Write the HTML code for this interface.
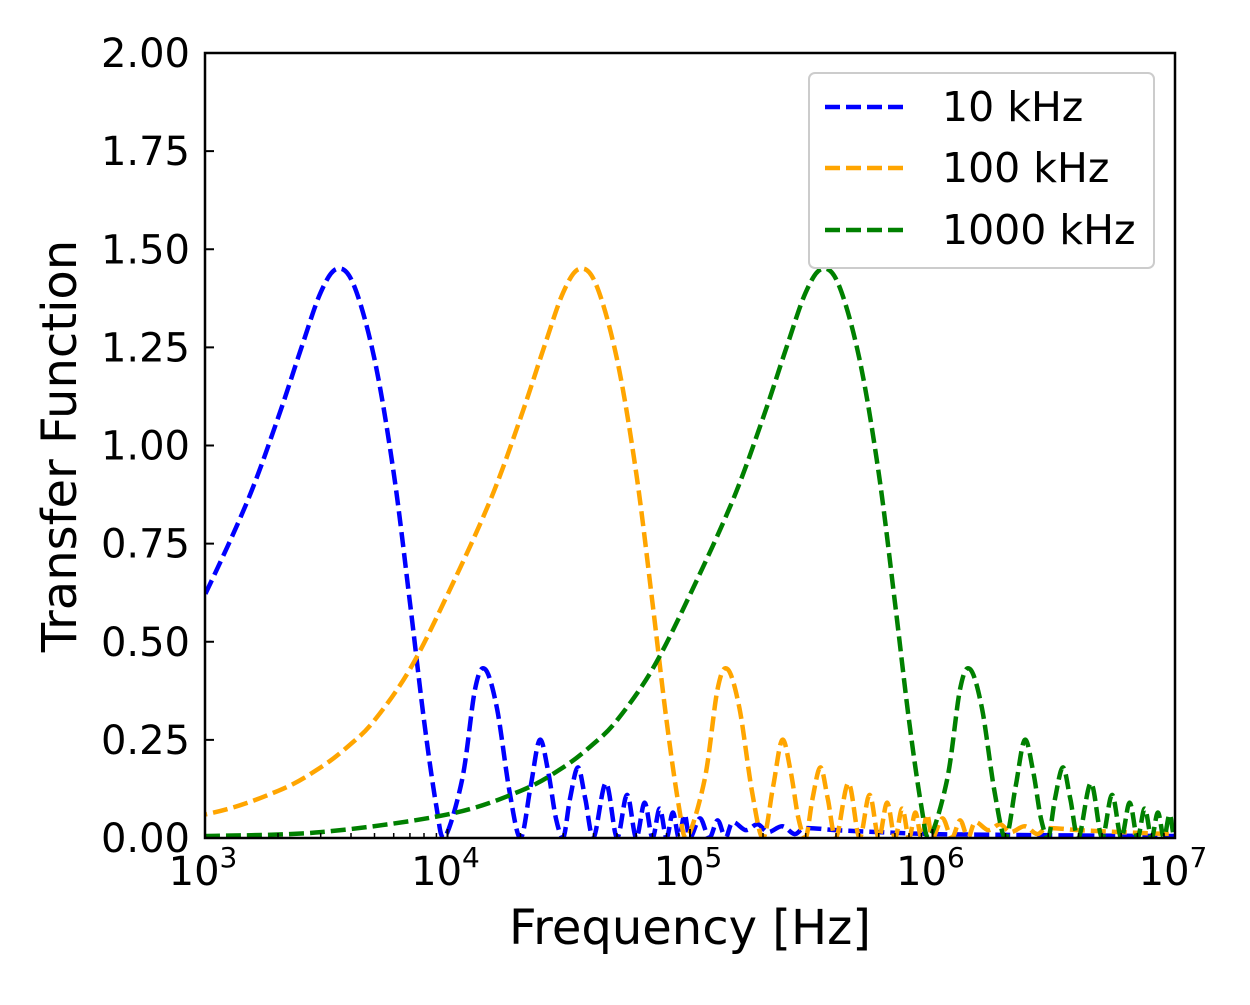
<!DOCTYPE html>
<html><head><meta charset="utf-8"><style>
body{margin:0;background:#fff;}
svg text{font-family:"DejaVu Sans","Liberation Sans",sans-serif;fill:#000;}
</style></head><body>
<svg id="chart" width="1250" height="1000" viewBox="0 0 1250 1000">
<defs><clipPath id="plotclip"><rect x="205" y="53" width="970" height="785"/></clipPath></defs>
<g id="curves" clip-path="url(#plotclip)"></g>
<rect x="205" y="53" width="970" height="785" fill="none" stroke="#000" stroke-width="2.5"/>
<g id="axes"></g>
<text x="690" y="944" font-size="48" text-anchor="middle">Frequency [Hz]</text>
<text transform="translate(76,446) rotate(-90)" font-size="48" text-anchor="middle">Transfer Function</text>
<g>
<rect x="809" y="73" width="345" height="195" rx="6" fill="#fff" fill-opacity="0.8" stroke="#ccc" stroke-width="2"/>
<g><line x1="825" y1="107" x2="905" y2="107" stroke="#0000ff" stroke-width="4.5" stroke-dasharray="15,6"/><text x="942" y="121" font-size="41">10 kHz</text></g>
<g><line x1="825" y1="168" x2="905" y2="168" stroke="#ffa500" stroke-width="4.5" stroke-dasharray="15,6"/><text x="942" y="182" font-size="41">100 kHz</text></g>
<g><line x1="825" y1="230" x2="905" y2="230" stroke="#008000" stroke-width="4.5" stroke-dasharray="15,6"/><text x="942" y="244" font-size="41">1000 kHz</text></g>
</g>
</svg>
<script>
const seriesNames = ["10 kHz", "100 kHz", "1000 kHz"];
const seriesF0 = [1e4, 1e5, 1e6];
const seriesColors = ["#0000ff", "#ffa500", "#008000"];
const shapeRel = [0.001,0.003,0.01,0.02,0.03,0.04,0.05,0.07,0.1,0.15,0.2,0.25,0.3,0.35,0.41,0.5,0.6,0.7,0.8,0.9,0.97,1.15,1.3,1.43,1.6,1.8,2.0,2.2,2.4,2.6,2.8,3.0,3.2,3.45,3.7,4,4.5,5,5.5,6,6.5,7,7.5,8,8.5,9,9.5,10,11,12,13,14,15,17,19,21,24,27,30,40,60,100,200,500,1000];
const shapeVal = [0.005,0.015,0.06,0.12,0.18,0.24,0.30,0.43,0.62,0.86,1.07,1.25,1.39,1.45,1.41,1.22,0.93,0.6,0.3,0.08,0,0.15,0.38,0.43,0.33,0.12,0,0.13,0.25,0.17,0.05,0,0.1,0.18,0.1,0,0.14,0,0.11,0,0.09,0,0.075,0,0.065,0,0.06,0,0.05,0,0.045,0,0.04,0.02,0.035,0.015,0.03,0.01,0.025,0.02,0.015,0.01,0.008,0.006,0.005];
const yTicks = [0,0.25,0.5,0.75,1,1.25,1.5,1.75,2];
const xTickExps = [3,4,5,6,7];

const X0=205,X1=1175,Y0=838,Y1=53;
const xs = f => X0 + (Math.log10(f)-3)/4*(X1-X0);
const ys = v => Y0 - v/2*(Y0-Y1);
const NS="http://www.w3.org/2000/svg";
function mk(t,a){const e=document.createElementNS(NS,t);for(const k in a)e.setAttribute(k,a[k]);return e;}
const axes=document.getElementById('axes');
yTicks.forEach(v=>{
  const l=mk('line',{x1:X0,x2:X0+9,y1:ys(v),y2:ys(v),stroke:'#000','stroke-width':2});
  
  
  axes.appendChild(l);
  const t=mk('text',{x:190,y:ys(v)+14,'font-size':40,'text-anchor':'end'});
  t.textContent=v.toFixed(2);
  
  
  axes.appendChild(t);
});
xTickExps.forEach(e=>{
  const x=xs(Math.pow(10,e));
  const l=mk('line',{x1:x,x2:x,y1:Y0,y2:Y0-9,stroke:'#000','stroke-width':2});
  
  
  axes.appendChild(l);
  const t=mk('text',{x:x-2,y:885,'font-size':40,'text-anchor':'middle'});
  t.innerHTML='10<tspan dy="-18" font-size="28">'+e+'</tspan>';
  
  
  axes.appendChild(t);
  if(e<7){for(let m=2;m<10;m++){const xm=xs(m*Math.pow(10,e));
    const ml=mk('line',{x1:xm,x2:xm,y1:Y0,y2:Y0-5,stroke:'#000','stroke-width':1.5});
    
    
    axes.appendChild(ml);}}
});
const g=document.getElementById('curves');
seriesF0.forEach((f0,i)=>{
  const pts=shapeRel.map((r,j)=>[xs(r*f0),ys(shapeVal[j])]);
  let d='M'+pts[0][0]+','+pts[0][1];
  for(let k=0;k<pts.length-1;k++){
    const p0=pts[Math.max(k-1,0)],p1=pts[k],p2=pts[k+1],p3=pts[Math.min(k+2,pts.length-1)];
    const c1=[p1[0]+(p2[0]-p0[0])/6,p1[1]+(p2[1]-p0[1])/6];
    const c2=[p2[0]-(p3[0]-p1[0])/6,p2[1]-(p3[1]-p1[1])/6];
    c1[1]=Math.min(c1[1],Y0);c2[1]=Math.min(c2[1],Y0);
    d+=' C'+c1[0]+','+c1[1]+' '+c2[0]+','+c2[1]+' '+p2[0]+','+p2[1];
  }
  const p=mk('path',{d:d,fill:'none',stroke:seriesColors[i],'stroke-width':4.5,'stroke-dasharray':'15,6'});
  
  
  g.appendChild(p);
});
</script>
</body></html>
